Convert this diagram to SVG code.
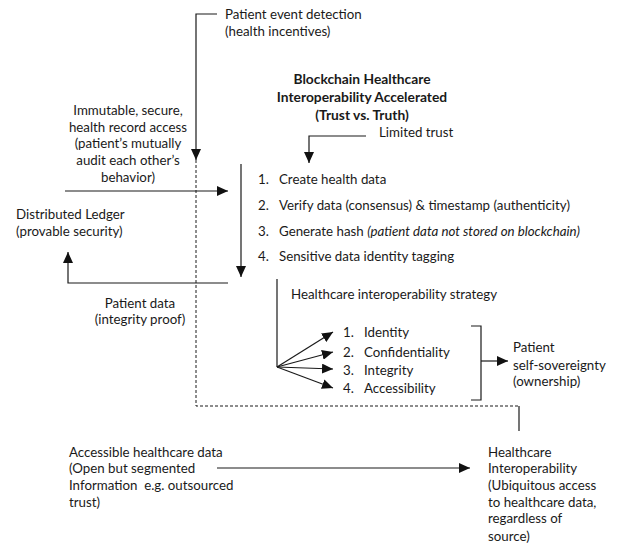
<svg xmlns="http://www.w3.org/2000/svg" width="620" height="552" viewBox="0 0 620 552">
<defs>
<style>
text{font-family:Lato,"Open Sans","Liberation Sans",sans-serif;font-size:13.3px;fill:#1a1a1a}
.b{font-weight:bold;font-size:13.8px}
.m{text-anchor:middle}
.i{font-style:italic}
.ln{fill:none;stroke:#1a1a1a;stroke-width:1.2}
.d{stroke-dasharray:3,2;stroke-width:1}
</style>
<marker id="ah" markerUnits="userSpaceOnUse" markerWidth="11" markerHeight="10" refX="11" refY="5" orient="auto">
<path d="M0,0 L11,5 L0,10 z" fill="#111"/>
</marker>
</defs>
<rect width="620" height="552" fill="#fff"/>
<g id="connectors">
<polyline class="ln" points="217,14 196,14 196,160" marker-end="url(#ah)"/>
<polyline class="ln d" points="196,160 196,406 519,406"/>
<line class="ln" x1="519" y1="406" x2="519" y2="431"/>
<line class="ln" x1="65" y1="191" x2="228" y2="191" marker-end="url(#ah)"/>
<polyline class="ln" points="366,136 309,136 309,163" marker-end="url(#ah)"/>
<line class="ln" x1="241" y1="164" x2="241" y2="277" marker-end="url(#ah)"/>
<polyline class="ln" points="228,283 68,283 68,252" marker-end="url(#ah)"/>
<line class="ln" x1="277" y1="279" x2="277" y2="367"/>
<line class="ln" x1="277" y1="367" x2="333" y2="332" marker-end="url(#ah)"/>
<line class="ln" x1="277" y1="367" x2="333" y2="352" marker-end="url(#ah)"/>
<line class="ln" x1="277" y1="367" x2="333" y2="369" marker-end="url(#ah)"/>
<line class="ln" x1="277" y1="367" x2="333" y2="388" marker-end="url(#ah)"/>
<polyline class="ln" points="471,326 481,326 481,400 471,400"/>
<line class="ln" x1="481" y1="361" x2="508" y2="361" marker-end="url(#ah)"/>
<line class="ln" x1="217" y1="468" x2="470" y2="468" marker-end="url(#ah)"/>
</g>
<g id="event">
<text x="225" y="19">Patient event detection</text>
<text x="225" y="36">(health incentives)</text>
</g>
<g id="title">
<text class="b m" x="362" y="84">Blockchain Healthcare</text>
<text class="b m" x="362" y="102">Interoperability Accelerated</text>
<text class="b m" x="362" y="120">(Trust vs. Truth)</text>
</g>
<g id="limited">
<text x="379" y="137">Limited trust</text>
</g>
<g id="immutable">
<text class="m" x="128" y="115">Immutable, secure,</text>
<text class="m" x="128" y="132">health record access</text>
<text class="m" x="128" y="148">(patient’s mutually</text>
<text class="m" x="128" y="165">audit each other’s</text>
<text class="m" x="128" y="182">behavior)</text>
</g>
<g id="steps">
<text x="258" y="184">1.</text><text x="279" y="184">Create health data</text>
<text x="258" y="210">2.</text><text x="279" y="210">Verify data (consensus) &amp; timestamp (authenticity)</text>
<text x="258" y="236">3.</text><text x="279" y="236">Generate hash <tspan class="i">(patient data not stored on blockchain)</tspan></text>
<text x="258" y="261">4.</text><text x="279" y="261">Sensitive data identity tagging</text>
</g>
<g id="ledger">
<text x="16" y="219">Distributed Ledger</text>
<text x="16" y="236">(provable security)</text>
</g>
<g id="patientdata">
<text class="m" x="140" y="308">Patient data</text>
<text class="m" x="140" y="324">(integrity proof)</text>
</g>
<g id="strategy">
<text x="291" y="299">Healthcare interoperability strategy</text>
<text x="343" y="337">1.</text><text x="364" y="337">Identity</text>
<text x="343" y="357">2.</text><text x="364" y="357">Confidentiality</text>
<text x="343" y="375">3.</text><text x="364" y="375">Integrity</text>
<text x="343" y="393">4.</text><text x="364" y="393">Accessibility</text>
</g>
<g id="sovereignty">
<text x="513" y="352">Patient</text>
<text x="513" y="370">self-sovereignty</text>
<text x="513" y="386">(ownership)</text>
</g>
<g id="accessible">
<text x="69" y="457">Accessible healthcare data</text>
<text x="69" y="473">(Open but segmented</text>
<text x="69" y="490" xml:space="preserve">Information  e.g. outsourced</text>
<text x="69" y="507">trust)</text>
</g>
<g id="interop">
<text x="488" y="457">Healthcare</text>
<text x="488" y="473">Interoperability</text>
<text x="488" y="490">(Ubiquitous access</text>
<text x="488" y="507">to healthcare data,</text>
<text x="488" y="523">regardless of</text>
<text x="488" y="541">source)</text>
</g>
</svg>
